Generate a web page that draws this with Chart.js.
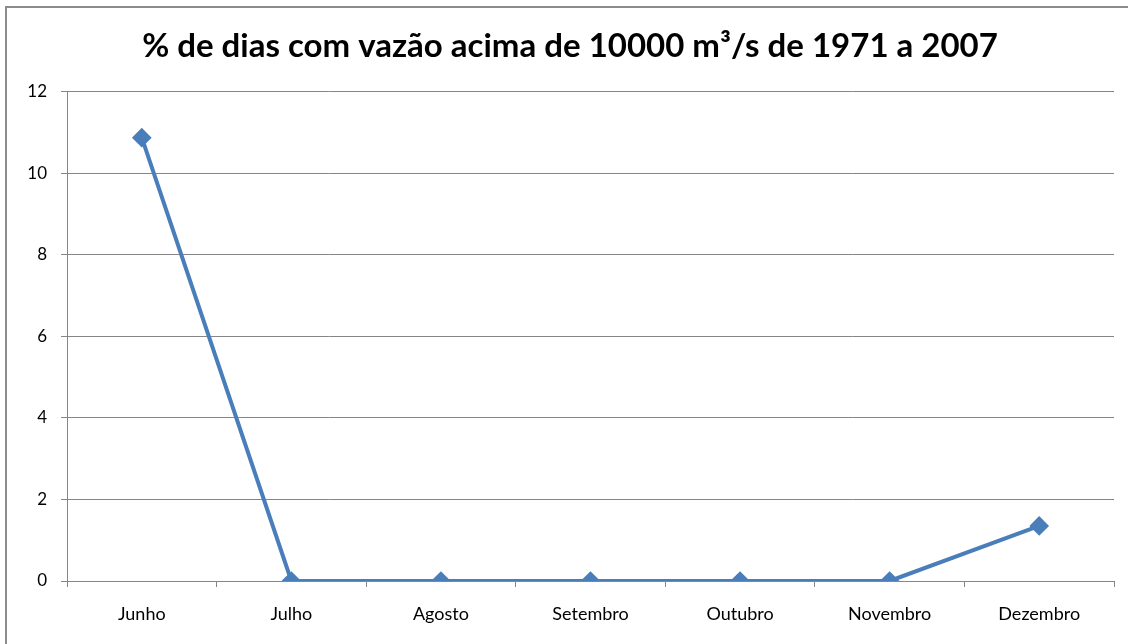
<!DOCTYPE html>
<html lang="pt">
<head>
  <meta charset="UTF-8">
  <title>% de dias com vazão acima de 10000 m³/s</title>
  <script src="https://cdn.jsdelivr.net/npm/chart.js"></script>
  <style>
    html, body { margin: 0; padding: 0; background: #fff; }
    .wrap { position: relative; width: 1128px; height: 644px; }
  </style>
</head>
<body>
<div class="wrap">
  <canvas id="vazaoChart" width="1128" height="644"></canvas>
</div>

<script>
  const meses = ["Junho", "Julho", "Agosto", "Setembro", "Outubro", "Novembro", "Dezembro"];
  const percentDias = [10.87, 0, 0, 0, 0, 0, 1.35];
  const yTicks = [0, 2, 4, 6, 8, 10, 12];

  const gridGray = "#868686";

  // outer frame like the spreadsheet chart border
  const framePlugin = {
    id: "frame",
    beforeDraw(chart) {
      const ctx = chart.ctx;
      ctx.save();
      ctx.strokeStyle = "#8c8c8c";
      ctx.lineWidth = 2;
      ctx.beginPath();
      ctx.moveTo(6, 644);
      ctx.lineTo(6, 7);
      ctx.lineTo(1128, 7);
      ctx.stroke();
      ctx.restore();
    }
  };

  new Chart(document.getElementById("vazaoChart"), {
    type: "line",
    data: {
      labels: meses,
      datasets: [{
        data: percentDias,
        borderColor: "#4a7ebb",
        backgroundColor: "#4a7ebb",
        borderWidth: 4,
        pointStyle: "rectRot",
        pointRadius: 7,
        pointHoverRadius: 7,
        tension: 0
      }]
    },
    options: {
      responsive: false,
      animation: false,
      layout: { padding: { left: 26, right: 14, top: 0, bottom: 0 } },
      plugins: {
        legend: { display: false },
        tooltip: { enabled: false },
        title: {
          display: true,
          text: "% de dias com vazão acima de 10000 m³/s de 1971 a 2007",
          color: "#000",
          font: { family: "Lato", size: 33, weight: "bold" },
          padding: { top: 27, bottom: 25 }
        }
      },
      scales: {
        x: {
          offset: true,
          grid: { offset: true, drawOnChartArea: false, drawTicks: true, tickLength: 6, color: gridGray },
          border: { color: gridGray, width: 1 },
          ticks: { color: "#000", font: { family: "Lato", size: 18 }, padding: 16 },
          afterFit(scale) { scale.height = 63; }
        },
        y: {
          min: 0,
          max: 12,
          afterBuildTicks(scale) { scale.ticks = yTicks.map(v => ({ value: v })); },
          grid: { color: gridGray, lineWidth: 1, tickLength: 6 },
          border: { color: gridGray, width: 1 },
          ticks: { color: "#000", font: { family: "Lato", size: 17 }, padding: 14 },
          afterFit(scale) { scale.width = 41; }
        }
      }
    },
    plugins: [framePlugin]
  });
</script>
</body>
</html>
